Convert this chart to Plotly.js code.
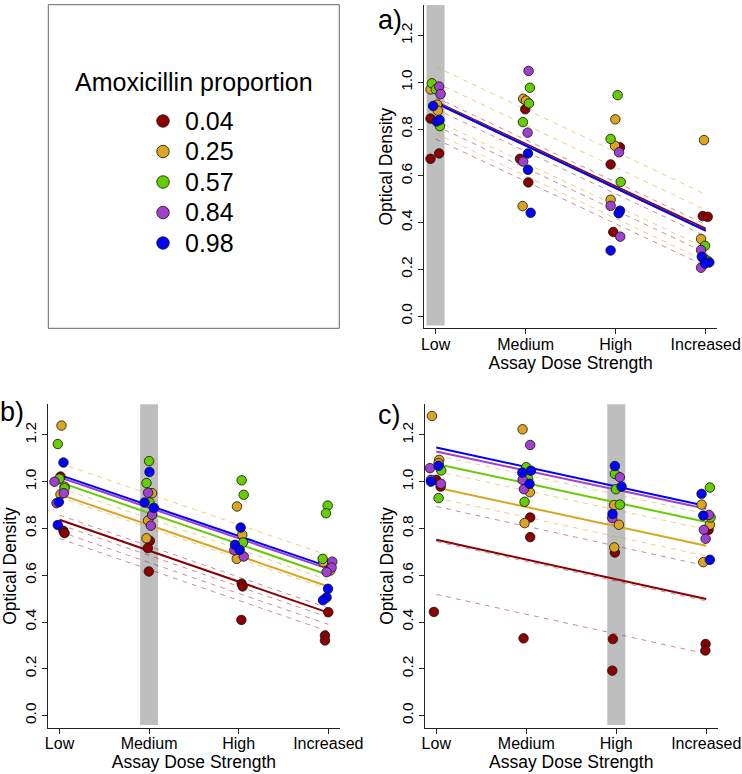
<!DOCTYPE html>
<html>
<head>
<meta charset="utf-8">
<script src="https://cdn.plot.ly/plotly-3.0.1.min.js"></script>
<style>
  html, body { margin: 0; padding: 0; background: #fff; }
  #chart { width: 742px; height: 774px; }
</style>
</head>
<body>
<div id="chart"></div>
<script>
// dose categories and amoxicillin proportions
const doses = ['Low', 'Medium', 'High', 'Increased'];
const props = ['0.04', '0.25', '0.57', '0.84', '0.98'];
const colors = ['#8B0000', '#DAA520', '#66CD00', '#A040CF', '#0000FF'];
const yTicks = [0, 0.2, 0.4, 0.6, 0.8, 1.0, 1.2];
const yTickText = ['0.0', '0.2', '0.4', '0.6', '0.8', '1.0', '1.2'];

// panel a) points  (Low, Medium, High, Increased; jittered x)
const a04x = [0.944, 0.944, 1.04, 1.996, 1.937, 2.03, 3.048, 2.944, 2.973, 3.967, 4.022, 3.985];
const a04y = [0.845, 0.673, 0.696, 0.885, 0.673, 0.572, 0.722, 0.649, 0.360, 0.428, 0.425, 0.240];
const a25x = [0.944, 1.018, 1.026, 1.973, 2.003, 1.967, 2.996, 2.992, 2.944, 3.981, 3.948, 3.974];
const a25y = [0.970, 0.905, 0.879, 0.930, 0.922, 0.471, 0.842, 0.729, 0.498, 0.753, 0.330, 0.251];
const a57x = [0.959, 1.003, 1.048, 2.048, 2.037, 1.97, 3.022, 2.944, 3.056, 3.992, 4.02];
const a57y = [0.996, 0.970, 0.813, 0.977, 0.910, 0.830, 0.945, 0.758, 0.574, 0.301, 0.237];
const a84x = [1.04, 1.056, 2.033, 2.022, 1.973, 3.037, 2.944, 3.051, 3.948, 3.948];
const a84y = [0.982, 0.950, 1.049, 0.785, 0.661, 0.701, 0.472, 0.340, 0.283, 0.207];
const a98x = [0.973, 1.011, 1.044, 2.026, 2.026, 2.056, 3.048, 3.033, 2.944, 3.956, 4.04, 3.993];
const a98y = [0.899, 0.833, 0.839, 0.696, 0.626, 0.442, 0.451, 0.440, 0.281, 0.254, 0.230, 0.225];

// panel b) points
const b04x = [1.011, 1.044, 1.056, 2.008, 1.986, 1.997, 3.033, 3.044, 3.03, 4.0, 3.963, 3.963];
const b04y = [1.022, 0.790, 0.780, 0.747, 0.716, 0.616, 0.564, 0.552, 0.409, 0.442, 0.342, 0.321];
const b25x = [1.022, 1.056, 1.011, 2.033, 1.989, 1.971, 2.981, 3.04, 2.978, 3.944, 4.022];
const b25y = [1.240, 0.979, 0.946, 0.951, 0.834, 0.758, 0.894, 0.773, 0.670, 0.656, 0.620];
const b57x = [0.981, 1.0, 1.056, 2.0, 1.971, 2.004, 3.033, 3.056, 3.048, 3.993, 3.974, 3.937];
const b57y = [1.161, 1.013, 0.972, 1.088, 0.994, 0.911, 1.006, 0.944, 0.740, 0.898, 0.865, 0.670];
const b84x = [0.944, 1.048, 0.967, 1.989, 2.033, 2.019, 2.951, 3.056, 4.044, 4.037, 3.981];
const b84y = [1.000, 0.951, 0.908, 0.953, 0.858, 0.812, 0.707, 0.680, 0.658, 0.633, 0.613];
const b98x = [1.044, 0.993, 0.981, 2.004, 1.949, 2.052, 3.022, 2.959, 3.011, 3.997, 3.981, 3.941];
const b98y = [1.082, 0.913, 0.815, 1.042, 0.911, 0.888, 0.804, 0.730, 0.708, 0.542, 0.505, 0.493];

// panel c) points
const c04x = [1.0, 1.048, 0.974, 2.044, 2.044, 1.97, 2.985, 2.963, 2.956, 4.026, 3.993, 3.99];
const c04y = [1.008, 0.979, 0.443, 0.847, 0.763, 0.330, 0.697, 0.327, 0.192, 0.794, 0.306, 0.278];
const c25x = [0.952, 1.033, 1.026, 1.959, 2.04, 1.981, 2.978, 3.029, 2.978, 3.948, 4.04, 3.967];
const c25y = [1.281, 1.093, 1.079, 1.224, 0.955, 0.823, 0.900, 0.816, 0.719, 0.902, 0.816, 0.656];
const c57x = [1.056, 1.026, 2.0, 2.022, 1.981, 2.985, 2.996, 3.04, 4.04, 4.048];
const c57y = [1.048, 0.930, 1.062, 1.011, 0.914, 1.033, 0.968, 0.902, 0.975, 0.847];
const c84x = [0.93, 0.941, 1.052, 2.044, 1.959, 1.974, 3.04, 2.956, 4.03, 3.974, 3.993];
const c84y = [1.058, 1.008, 0.991, 1.157, 1.008, 0.968, 1.019, 0.845, 0.858, 0.794, 0.756];
const c98x = [1.026, 0.941, 2.052, 1.956, 2.037, 2.985, 3.059, 2.959, 3.948, 3.967, 4.04];
const c98y = [1.068, 1.000, 1.047, 1.039, 0.991, 1.067, 0.979, 0.862, 0.948, 0.855, 0.666];

// fitted lines: value at Low and at Increased, per proportion
const aFitLow = [0.918, 0.912, 0.912, 0.912, 0.912];
const aFitInc = [0.374, 0.366, 0.366, 0.366, 0.366];
const bFitLow = [0.837, 0.946, 0.998, 1.019, 1.029];
const bFitInc = [0.440, 0.552, 0.601, 0.627, 0.637];
const cFitLow = [0.752, 0.975, 1.076, 1.129, 1.146];
const cFitInc = [0.498, 0.726, 0.828, 0.884, 0.896];

// dashed interval lines, offsets from the 0.04 and 0.25 fits
const aBand04 = [0.018, -0.032, -0.103, -0.16];
const aBand25 = [0.155, 0.088, -0.075, -0.13];
const bBand04 = [0.02, -0.02, -0.05, -0.08];
const bBand25 = [0.133, 0.028, -0.012];
const cBand04 = [0.142, -0.008, -0.234];
const cBand25 = [0.137, 0.07, -0.044];

// shaded dose column for each panel
const aShade = [0.9, 1.1];
const bShade = [1.9, 2.1];
const cShade = [2.9, 3.1];

const FONT = 'Liberation Sans, Arial, Helvetica, sans-serif';
const W = 742, H = 774;
const px = v => v / W;
const py = v => 1 - v / H;

const panels = [
  { xa: 'x', ya: 'y', pts: [[a04x, a04y], [a25x, a25y], [a57x, a57y], [a84x, a84y], [a98x, a98y]],
    low: aFitLow, inc: aFitInc, band04: aBand04, band25: aBand25, shade: aShade },
  { xa: 'x2', ya: 'y2', pts: [[b04x, b04y], [b25x, b25y], [b57x, b57y], [b84x, b84y], [b98x, b98y]],
    low: bFitLow, inc: bFitInc, band04: bBand04, band25: bBand25, shade: bShade },
  { xa: 'x3', ya: 'y3', pts: [[c04x, c04y], [c25x, c25y], [c57x, c57y], [c84x, c84y], [c98x, c98y]],
    low: cFitLow, inc: cFitInc, band04: cBand04, band25: cBand25, shade: cShade }
];

const traces = [];
const shapes = [];

panels.forEach(p => {
  // dashed lines
  const dashed = (base, offs, col) => offs.forEach(o => {
    traces.push({
      type: 'scatter', mode: 'lines', xaxis: p.xa, yaxis: p.ya,
      x: [1, 4], y: [p.low[base] + o, p.inc[base] + o],
      line: { color: col, width: 1, dash: '5px,5px' }, hoverinfo: 'skip'
    });
  });
  dashed(1, p.band25, 'rgba(218,165,32,0.55)');
  dashed(0, p.band04, 'rgba(150,30,50,0.5)');

  // fitted lines
  props.forEach((pr, i) => {
    traces.push({
      type: 'scatter', mode: 'lines', xaxis: p.xa, yaxis: p.ya,
      x: [1, 4], y: [p.low[i], p.inc[i]],
      line: { color: colors[i], width: 2 }, hoverinfo: 'skip'
    });
  });

  // observations
  p.pts.forEach((xy, i) => {
    traces.push({
      type: 'scatter', mode: 'markers', xaxis: p.xa, yaxis: p.ya,
      x: xy[0], y: xy[1], name: props[i],
      marker: { color: colors[i], size: 9.5, line: { color: '#111', width: 0.8 } }
    });
  });

  shapes.push({
    type: 'rect', xref: p.xa, yref: p.ya, layer: 'below',
    x0: p.shade[0], x1: p.shade[1], y0: -0.04, y1: 1.34,
    fillcolor: '#bebebe', line: { width: 0 }
  });
});

// legend markers
traces.push({
  type: 'scatter', mode: 'markers', xaxis: 'x4', yaxis: 'y4',
  x: props.map(() => 0.5), y: props,
  marker: { color: colors, size: 12.5, line: { color: '#111', width: 0.8 } }
});

shapes.push({
  type: 'rect', xref: 'paper', yref: 'paper',
  x0: px(48.3), x1: px(339.3), y0: py(328.3), y1: py(4.7),
  line: { color: '#666', width: 1 }, fillcolor: 'rgba(0,0,0,0)'
});

function xAxis(domain, anchor) {
  return {
    domain: domain, anchor: anchor, range: [0.875, 4.125],
    tickvals: [1, 2, 3, 4], ticktext: doses,
    showline: true, linecolor: '#222', linewidth: 1,
    ticks: 'outside', ticklen: 5, tickcolor: '#222', ticklabelstandoff: -4,
    showgrid: false, zeroline: false, automargin: false,
    tickfont: { family: FONT, size: 16, color: '#000' },
    title: { text: 'Assay Dose Strength', font: { family: FONT, size: 17.5, color: '#000' }, standoff: 4 }
  };
}
function yAxis(domain, anchor) {
  return {
    domain: domain, anchor: anchor, range: [-0.052, 1.331],
    tickvals: yTicks, ticktext: yTickText, tickangle: -90,
    showline: true, linecolor: '#222', linewidth: 1,
    ticks: 'outside', ticklen: 5, tickcolor: '#222',
    showgrid: false, zeroline: false, automargin: false,
    tickfont: { family: FONT, size: 15.5, color: '#000' },
    title: { text: 'Optical Density', font: { family: FONT, size: 17.5, color: '#000' }, standoff: 0 }
  };
}

const topY = [py(328.3), py(5)];
const botY = [py(727.7), py(404.3)];

const layout = {
  width: W, height: H,
  margin: { l: 0, r: 0, t: 0, b: 0 },
  paper_bgcolor: '#fff', plot_bgcolor: 'rgba(0,0,0,0)',
  showlegend: false,
  font: { family: FONT, color: '#000' },
  xaxis: xAxis([px(424.3), px(717)], 'y'),
  yaxis: yAxis(topY, 'x'),
  xaxis2: xAxis([px(48.3), px(339.5)], 'y2'),
  yaxis2: yAxis(botY, 'x2'),
  xaxis3: xAxis([px(425), px(717.5)], 'y3'),
  yaxis3: yAxis(botY, 'x3'),
  xaxis4: { domain: [px(142), px(184)], anchor: 'y4', range: [0, 1], visible: false },
  yaxis4: {
    domain: [py(258.25), py(105.75)], anchor: 'free', position: px(184), side: 'right',
    type: 'category', categoryarray: props, range: [4.5, -0.5],
    showline: false, ticks: '', showgrid: false, zeroline: false, automargin: false,
    tickfont: { family: FONT, size: 25, color: '#000' }
  },
  shapes: shapes,
  annotations: [
    { text: 'Amoxicillin proportion', xref: 'paper', yref: 'paper', x: px(194), y: py(82),
      xanchor: 'center', yanchor: 'middle', showarrow: false, font: { family: FONT, size: 25, color: '#000' } },
    { text: 'a)', xref: 'paper', yref: 'paper', x: px(390), y: py(19.5),
      xanchor: 'center', yanchor: 'middle', showarrow: false, font: { family: FONT, size: 27, color: '#000' } },
    { text: 'b)', xref: 'paper', yref: 'paper', x: px(11.5), y: py(412),
      xanchor: 'center', yanchor: 'middle', showarrow: false, font: { family: FONT, size: 27, color: '#000' } },
    { text: 'c)', xref: 'paper', yref: 'paper', x: px(390), y: py(415),
      xanchor: 'center', yanchor: 'middle', showarrow: false, font: { family: FONT, size: 27, color: '#000' } }
  ]
};

Plotly.newPlot('chart', traces, layout, { staticPlot: true, displayModeBar: false });
</script>
</body>
</html>
